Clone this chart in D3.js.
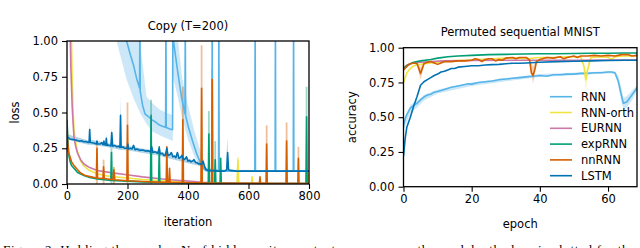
<!DOCTYPE html>
<meta charset="utf-8">
<style>
body { margin: 0; background: #fff; }
svg { display: block; font-family: "DejaVu Sans", sans-serif; }
</style>
<div id="container"></div>
<script src="https://d3js.org/d3.v7.min.js"></script>
<script>
// series names + colours (legend order)
const seriesNames = ["RNN", "RNN-orth", "EURNN", "expRNN", "nnRNN", "LSTM"];
const seriesColors = ["#56B4E9", "#F0E442", "#CC79A7", "#009E73", "#D55E00", "#0072B2"];

// ---- Copy task (T=200): [iteration, loss]
const copyRNN = [[165,1.15],[197,1.0],[210,0.9],[220,0.83],[230,0.74],[240,0.67],[241,1.2],[242,0.65],[250,0.55],[258,0.49],[270,0.47],[280,0.45],[295,0.43],[307,0.41],[320,0.4],[326,0.395],[327,1.2],[328,0.395],[340,0.385],[349,0.38],[350,1.2],[352,1.0],[365,0.8],[379,0.6],[390,0.49],[391,1.2],[392,0.48],[401,0.4],[415,0.3],[429,0.21],[445,0.13],[455,0.1],[465,0.09],[479,0.09],[480,1.2],[481,0.09],[501,0.09],[502,1.2],[503,0.09],[621,0.09],[622,1.2],[623,0.09],[688,0.09],[689,1.2],[690,0.09],[748,0.09],[749,1.2],[750,0.09],[800,0.09]];
const copyRNNorth = [[14,1.1],[17,0.75],[20,0.52],[23,0.38],[28,0.3],[34,0.23],[45,0.16],[56,0.126],[70,0.1],[85,0.085],[100,0.07],[130,0.058],[152,0.05],[155,0.09],[158,0.05],[200,0.042],[250,0.032],[300,0.024],[350,0.018],[400,0.012],[450,0.009],[500,0.007],[562,0.006],[565,0.17],[568,0.006],[610,0.005],[612,0.05],[614,0.005],[700,0.004],[795,0.004],[797,0.07],[800,0.004]];
const copyEURNN = [[10,1.1],[13,0.8],[17,0.55],[20,0.43],[23,0.33],[28,0.27],[34,0.22],[45,0.17],[56,0.14],[75,0.115],[100,0.095],[150,0.078],[198,0.065],[250,0.05],[300,0.038],[350,0.028],[400,0.02],[450,0.012],[500,0.008],[600,0.005],[800,0.003]];
const copyExpRNN = [[0,0.45],[3,0.3],[6,0.2],[10,0.16],[15,0.13],[23,0.11],[35,0.08],[56,0.06],[75,0.045],[100,0.035],[145,0.025],[147,0.22],[149,0.025],[198,0.02],[250,0.015],[276,0.012],[278,0.48],[280,0.012],[303,0.01],[305,0.26],[307,0.01],[400,0.007],[467,0.005],[469,0.35],[471,0.005],[488,0.005],[490,0.17],[492,0.005],[506,0.005],[508,0.18],[510,0.005],[600,0.004],[790,0.003],[792,0.47],[794,0.003],[800,0.003]];
const copyNnRNN = [[0,0.42],[2,0.3],[5,0.22],[10,0.19],[15,0.155],[23,0.13],[35,0.1],[45,0.077],[60,0.06],[80,0.05],[97,0.042],[99,0.25],[101,0.042],[119,0.038],[121,0.12],[123,0.038],[152,0.03],[155,0.1],[158,0.03],[198,0.023],[200,0.41],[202,0.023],[250,0.017],[300,0.013],[328,0.012],[330,0.26],[332,0.012],[337,0.012],[339,0.11],[341,0.012],[381,0.01],[383,0.45],[385,0.01],[443,0.008],[445,0.67],[447,0.008],[478,0.007],[480,0.73],[482,0.007],[600,0.005],[636,0.005],[638,0.05],[640,0.005],[658,0.005],[660,0.28],[662,0.005],[724,0.004],[726,0.3],[728,0.004],[763,0.004],[765,0.18],[767,0.004],[800,0.004]];
const copyLSTM = [[0,0.33],[10,0.315],[18,0.312],[25,0.31],[33,0.305],[40,0.3],[48,0.302],[55,0.295],[62,0.297],[70,0.29],[73,0.29],[75,0.38],[77,0.29],[84,0.288],[90,0.285],[97,0.28],[99,0.3],[101,0.28],[110,0.28],[115,0.29],[118,0.277],[120,0.275],[122,0.3],[124,0.275],[128,0.272],[130,0.32],[132,0.27],[138,0.272],[145,0.265],[148,0.36],[151,0.265],[158,0.27],[165,0.26],[170,0.265],[175,0.255],[177,0.48],[179,0.255],[185,0.26],[190,0.25],[199,0.25],[201,0.28],[203,0.245],[210,0.25],[215,0.245],[220,0.27],[225,0.24],[232,0.245],[240,0.235],[250,0.238],[260,0.23],[268,0.232],[275,0.225],[280,0.26],[284,0.22],[292,0.225],[300,0.215],[305,0.25],[308,0.21],[315,0.215],[320,0.2],[325,0.2],[330,0.25],[334,0.2],[340,0.205],[345,0.22],[350,0.19],[355,0.195],[360,0.185],[365,0.22],[370,0.18],[375,0.185],[380,0.2],[385,0.17],[390,0.175],[395,0.19],[400,0.16],[405,0.165],[410,0.155],[415,0.16],[420,0.17],[425,0.15],[430,0.148],[435,0.14],[440,0.142],[445,0.135],[450,0.16],[455,0.12],[460,0.1],[470,0.095],[500,0.09],[520,0.09],[528,0.1],[531,0.22],[534,0.1],[540,0.095],[560,0.09],[800,0.09]];

// shaded bands [iteration, low, high]
const copyRNNBandA = [[165,0.99,1.2],[197,0.73,1.2],[220,0.6,1.15],[241,0.5,1.0],[263,0.42,0.61],[280,0.37,0.57],[307,0.34,0.52],[350,0.3,0.48]];
const copyRNNBandB = [[350,0.75,1.2],[365,0.62,1.05],[380,0.47,0.75],[400,0.31,0.55],[420,0.2,0.38],[440,0.12,0.24],[455,0.09,0.14],[465,0.085,0.1]];
const copyLSTMBand = [[0,0.31,0.35],[70,0.275,0.305],[73,0.275,0.31],[75,0.275,0.43],[77,0.275,0.31],[128,0.26,0.29],[130,0.26,0.35],[132,0.26,0.29],[145,0.25,0.28],[148,0.25,0.39],[151,0.25,0.28],[175,0.24,0.27],[177,0.24,0.62],[179,0.24,0.27],[199,0.235,0.265],[201,0.235,0.31],[203,0.235,0.265],[300,0.2,0.23],[400,0.145,0.175],[450,0.12,0.15],[460,0.09,0.11],[526,0.085,0.1],[530,0.085,0.33],[534,0.085,0.1],[800,0.085,0.095]];
// light tops of the spikes [iteration, top]
const copyPeaksRNNorth = [[155,0.12],[565,0.19]];
const copyPeaksExpRNN = [[147,0.25],[278,0.59],[469,0.51],[490,0.3],[792,0.68]];
const copyPeaksNnRNN = [[99,0.3],[121,0.17],[155,0.12],[200,0.57],[383,0.68],[445,0.97],[480,0.8],[660,0.41],[726,0.43],[765,0.26]];

// ---- Permuted sequential MNIST: [epoch, accuracy]
const mnistRNN = [[0,0.44],[0.5,0.49],[1,0.52],[2,0.565],[3,0.585],[4,0.6],[5,0.625],[6,0.645],[7,0.66],[8,0.665],[9,0.68],[10,0.685],[12,0.7],[14,0.715],[16,0.725],[18,0.735],[19,0.74],[20,0.738],[22,0.75],[24,0.755],[26,0.76],[28,0.77],[30,0.775],[32,0.78],[34,0.785],[36,0.79],[38,0.795],[40,0.8],[42,0.795],[44,0.805],[46,0.805],[48,0.81],[50,0.81],[52,0.815],[54,0.815],[56,0.82],[58,0.82],[60,0.825],[61,0.825],[62,0.82],[63,0.76],[64,0.65],[64.5,0.6],[65.5,0.61],[67,0.66],[68.5,0.71]];
const mnistRNNorth = [[0,0.75],[1,0.82],[2,0.85],[3,0.87],[4,0.875],[6,0.885],[8,0.89],[10,0.895],[14,0.905],[18,0.91],[22,0.915],[26,0.92],[30,0.925],[34,0.925],[36,0.92],[40,0.93],[44,0.93],[48,0.935],[52,0.935],[53,0.86],[53.5,0.77],[54,0.84],[55,0.93],[58,0.935],[60,0.93],[61,0.915],[62,0.935],[65,0.94],[68.5,0.94]];
const mnistEURNN = [[0,0.86],[1,0.875],[2,0.885],[3,0.89],[5,0.895],[8,0.9],[12,0.905],[20,0.908],[30,0.91],[40,0.91],[50,0.91],[60,0.912],[68.5,0.912]];
const mnistExpRNN = [[0,0.85],[1,0.87],[2,0.885],[3,0.895],[5,0.905],[8,0.915],[10,0.925],[13,0.935],[16,0.94],[20,0.945],[25,0.95],[30,0.952],[35,0.955],[40,0.956],[45,0.957],[50,0.958],[55,0.96],[60,0.96],[65,0.962],[68.5,0.962]];
const mnistNnRNN = [[0,0.84],[1,0.865],[2,0.885],[3,0.89],[4,0.885],[5,0.815],[6,0.885],[7,0.895],[8,0.9],[9,0.89],[10,0.88],[11,0.89],[12,0.9],[14,0.9],[16,0.905],[18,0.905],[20,0.91],[21,0.92],[22,0.915],[23,0.9],[24,0.915],[25,0.92],[26,0.92],[27,0.905],[28,0.915],[29,0.91],[30,0.925],[32,0.93],[33,0.92],[34,0.93],[36,0.93],[37,0.91],[37.5,0.82],[38,0.8],[38.5,0.84],[39,0.9],[40,0.915],[42,0.93],[44,0.925],[46,0.935],[47,0.92],[48,0.93],[50,0.94],[51,0.93],[52,0.94],[54,0.94],[56,0.945],[58,0.94],[60,0.945],[62,0.94],[63,0.945],[64,0.95],[66,0.95],[67,0.94],[68.5,0.945]];
const mnistLSTM = [[0,0.22],[0.5,0.35],[1,0.43],[2,0.5],[3,0.58],[4,0.65],[5,0.73],[6,0.755],[7,0.77],[8,0.785],[9,0.8],[10,0.81],[11,0.825],[12,0.83],[13,0.84],[14,0.85],[15,0.85],[16,0.86],[18,0.865],[20,0.87],[22,0.87],[24,0.875],[26,0.878],[28,0.88],[30,0.885],[32,0.888],[34,0.888],[36,0.89],[40,0.895],[45,0.9],[50,0.902],[55,0.905],[60,0.908],[65,0.91],[68.5,0.91]];
const mnistRNNBand = [[0,0.4,0.47],[2,0.53,0.59],[4,0.57,0.62],[6,0.62,0.66],[10,0.67,0.7],[20,0.725,0.75],[40,0.79,0.81],[60,0.815,0.83],[62,0.81,0.83],[63,0.73,0.8],[64,0.6,0.7],[64.5,0.56,0.64],[65.5,0.57,0.65],[67,0.62,0.69],[68.5,0.69,0.73]];
const mnistRNNorthBand = [[52.5,0.92,0.945],[53.5,0.68,0.82],[54.5,0.9,0.94]];
const mnistNnRNNBandA = [[4,0.87,0.9],[5,0.77,0.86],[6,0.87,0.9]];
const mnistNnRNNBandB = [[37,0.9,0.93],[38,0.74,0.86],[39,0.88,0.92]];

const lossTicks = [0, 0.25, 0.5, 0.75, 1];
const iterTicks = [0, 200, 400, 600, 800];
const epochTicks = [0, 20, 40, 60];

const width = 640, height = 248;

const svg = d3.create("svg")
    .attr("width", width)
    .attr("height", height);

svg.append("rect").attr("width", width).attr("height", height).attr("fill", "#fff");

function panel(opt) {
  const x = d3.scaleLinear().domain(opt.xDomain).range([opt.left, opt.right]);
  const y = d3.scaleLinear().domain([0, 1]).range([opt.bottom, opt.top]);
  const g = svg.append("g");

  g.append("clipPath").attr("id", opt.id)
    .append("rect")
      .attr("x", opt.left).attr("y", opt.top)
      .attr("width", opt.right - opt.left).attr("height", opt.bottom - opt.top);

  const plot = g.append("g").attr("clip-path", `url(#${opt.id})`);

  const area = d3.area().x(d => x(d[0])).y0(d => y(d[1])).y1(d => y(d[2]));
  const line = d3.line().x(d => x(d[0])).y(d => y(d[1]));

  opt.bands.forEach(([i, data]) => {
    plot.append("path")
      .attr("d", area(data))
      .attr("fill", seriesColors[i])
      .attr("fill-opacity", 0.3);
  });

  (opt.peaks || []).forEach(([i, data]) => {
    plot.selectAll(null).data(data).join("line")
      .attr("x1", d => x(d[0])).attr("x2", d => x(d[0]))
      .attr("y1", y(0)).attr("y2", d => y(d[1]))
      .attr("stroke", seriesColors[i])
      .attr("stroke-opacity", 0.4)
      .attr("stroke-width", 1.8);
  });

  opt.series.forEach((data, i) => {
    plot.append("path")
      .attr("d", line(data))
      .attr("fill", "none")
      .attr("stroke", seriesColors[i])
      .attr("stroke-width", 1.6)
      .attr("stroke-linejoin", "round");
  });

  // axes
  g.append("g")
      .attr("transform", `translate(0,${opt.bottom})`)
      .call(d3.axisBottom(x).tickValues(opt.xTicks).tickSize(5).tickPadding(3).tickFormat(d3.format("d")))
      .call(a => a.select(".domain").remove());
  g.append("g")
      .attr("transform", `translate(${opt.left},0)`)
      .call(d3.axisLeft(y).tickValues(lossTicks).tickSize(5).tickPadding(4).tickFormat(d3.format(".2f")))
      .call(a => a.select(".domain").remove());
  g.selectAll(".tick text")
      .attr("font-family", "DejaVu Sans, sans-serif")
      .attr("font-size", 11.5)
      .attr("fill", "#000");
  g.selectAll(".tick line").attr("stroke", "#000").attr("stroke-width", 1.1);

  g.append("rect")
      .attr("x", opt.left).attr("y", opt.top)
      .attr("width", opt.right - opt.left).attr("height", opt.bottom - opt.top)
      .attr("fill", "none").attr("stroke", "#000").attr("stroke-width", 1.3);

  g.append("text")
      .attr("x", (opt.left + opt.right) / 2).attr("y", opt.titleY)
      .attr("text-anchor", "middle").attr("font-size", 11.5)
      .text(opt.title);
  g.append("text")
      .attr("x", (opt.left + opt.right) / 2).attr("y", opt.xLabelY)
      .attr("text-anchor", "middle").attr("font-size", 11.5)
      .text(opt.xLabel);
  g.append("text")
      .attr("transform", `translate(${opt.yLabelX},${(opt.top + opt.bottom) / 2}) rotate(-90)`)
      .attr("text-anchor", "middle").attr("font-size", 11.5)
      .text(opt.yLabel);
  return {x, y, g};
}

panel({
  id: "clipCopy", left: 67, right: 309, top: 41, bottom: 184,
  xDomain: [0, 800], xTicks: iterTicks,
  title: "Copy (T=200)", titleY: 30, xLabel: "iteration", xLabelY: 226, yLabel: "loss", yLabelX: 18.5,
  bands: [[0, copyRNNBandA], [0, copyRNNBandB], [5, copyLSTMBand]],
  peaks: [[1, copyPeaksRNNorth], [3, copyPeaksExpRNN], [4, copyPeaksNnRNN]],
  series: [copyRNN, copyRNNorth, copyEURNN, copyExpRNN, copyNnRNN, copyLSTM]
});

panel({
  id: "clipMnist", left: 403.5, right: 637, top: 47.7, bottom: 186.7,
  xDomain: [0, 68.5], xTicks: epochTicks,
  title: "Permuted sequential MNIST", titleY: 36, xLabel: "epoch", xLabelY: 228, yLabel: "accuracy", yLabelX: 355.6,
  bands: [[0, mnistRNNBand], [1, mnistRNNorthBand], [4, mnistNnRNNBandA], [4, mnistNnRNNBandB]],
  series: [mnistRNN, mnistRNNorth, mnistEURNN, mnistExpRNN, mnistNnRNN, mnistLSTM]
});

// legend
const legend = svg.append("g");
const rowY = d3.scalePoint().domain(seriesNames).range([96.7, 175.7]);
seriesNames.forEach((name, i) => {
  legend.append("line")
      .attr("x1", 550).attr("x2", 572)
      .attr("y1", rowY(name)).attr("y2", rowY(name))
      .attr("stroke", seriesColors[i]).attr("stroke-width", 1.6);
  legend.append("text")
      .attr("x", 581).attr("y", rowY(name)).attr("dy", "0.35em")
      .attr("font-size", 11.5)
      .text(name);
});

// caption (cut off at the bottom edge of the picture, as in the source)
svg.append("text")
    .attr("x", 3).attr("y", 254)
    .attr("font-family", "Liberation Serif, serif")
    .attr("font-size", 13)
    .attr("textLength", 632).attr("lengthAdjust", "spacing")
    .text("Figure 2: Holding the number N of hidden units constant, we compare the models; the loss is plotted for the");

container.append(svg.node());
</script>
